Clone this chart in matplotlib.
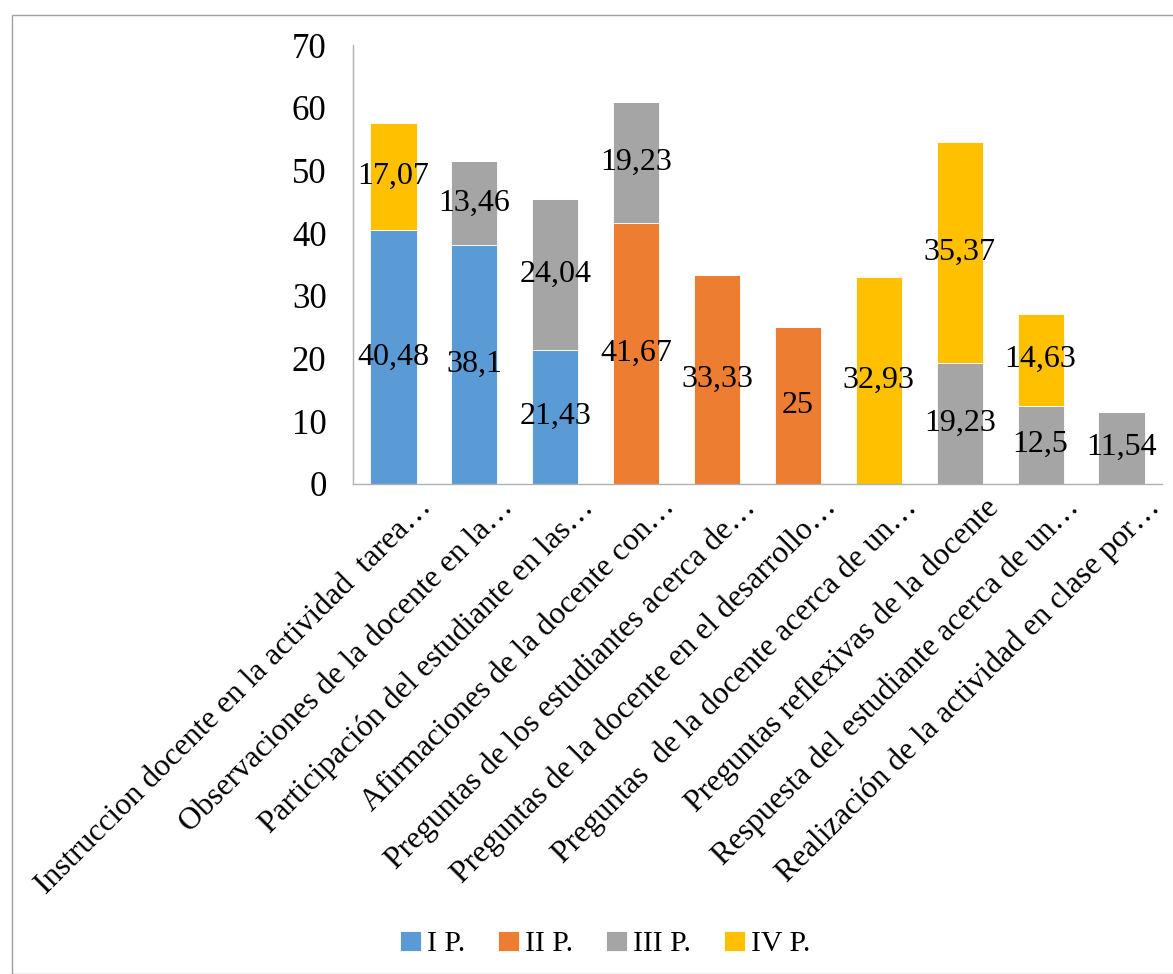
import matplotlib
matplotlib.use("Agg")
import matplotlib.pyplot as plt
import numpy as np
from matplotlib.patches import Rectangle

plt.rcParams['font.family'] = ['Liberation Serif', 'DejaVu Serif']

categories = [
    "Instruccion docente en la actividad  tarea…",
    "Observaciones de la docente en la…",
    "Participación del estudiante en las…",
    "Afirmaciones de la docente con…",
    "Preguntas de los estudiantes acerca de…",
    "Preguntas de la docente en el desarrollo…",
    "Preguntas  de la docente acerca de un…",
    "Preguntas reflexivas de la docente",
    "Respuesta del estudiante acerca de un…",
    "Realización de la actividad en clase por…",
]
series_names = ["I P.", "II P.", "III P.", "IV P."]
s1 = [40.48, 38.1, 21.43, 0, 0, 0, 0, 0, 0, 0]
s2 = [0, 0, 0, 41.67, 33.33, 25, 0, 0, 0, 0]
s3 = [0, 13.46, 24.04, 19.23, 0, 0, 0, 19.23, 12.5, 11.54]
s4 = [17.07, 0, 0, 0, 0, 0, 32.93, 35.37, 14.63, 0]
colors = ["#5B9BD5", "#ED7D31", "#A5A5A5", "#FFC000"]

W, H = 1173, 974
fig = plt.figure(figsize=(W/100, H/100), dpi=100)
ax = fig.add_axes([353/W, 1-484/H, (1162-353)/W, (484-45)/H])

x = np.arange(len(categories))
bottom = np.zeros(len(categories))
for name, vals, c in zip(series_names, [s1, s2, s3, s4], colors):
    vals = np.array(vals, dtype=float)
    ax.bar(x, vals, 0.57, bottom=bottom, color=c, label=name,
           edgecolor='white', linewidth=0.6)
    for xi, v, b in zip(x, vals, bottom):
        if v > 0:
            ax.text(xi, b + v/2, f"{v:g}".replace('.', ','), ha='center', va='center',
                    fontsize=23, color='black')
    bottom += vals

ax.set_ylim(0, 70)
ax.set_xlim(-0.5, len(categories) - 0.5)
ax.set_yticks(range(0, 71, 10))
ax.tick_params(axis='y', length=0, labelsize=25, pad=19)
ax.tick_params(axis='x', length=0)
ax.set_xticks(x)
ax.set_xticklabels(categories, rotation=45, ha='right', va='top',
                   rotation_mode='anchor', fontsize=22.6)
for lbl in ax.get_xticklabels():
    lbl.set_transform(lbl.get_transform() + matplotlib.transforms.ScaledTranslation(24/100, -4/100, fig.dpi_scale_trans))
for s in ['top', 'right']:
    ax.spines[s].set_visible(False)
for s in ['left', 'bottom']:
    ax.spines[s].set_color('#B0B0B0')
    ax.spines[s].set_linewidth(1.0)

fig.legend(loc='center', bbox_to_anchor=(605/W, 1-944/H), ncol=4, frameon=False,
           fontsize=21.5, handlelength=0.7, handleheight=0.7, handletextpad=0.2,
           columnspacing=1.1)

fig.patches.append(Rectangle((12/W, 0), 2, 1-15/H, transform=fig.transFigure,
                             fill=False, edgecolor='#A0A0A0', linewidth=1.0))

fig.savefig("out.png", dpi=100)
